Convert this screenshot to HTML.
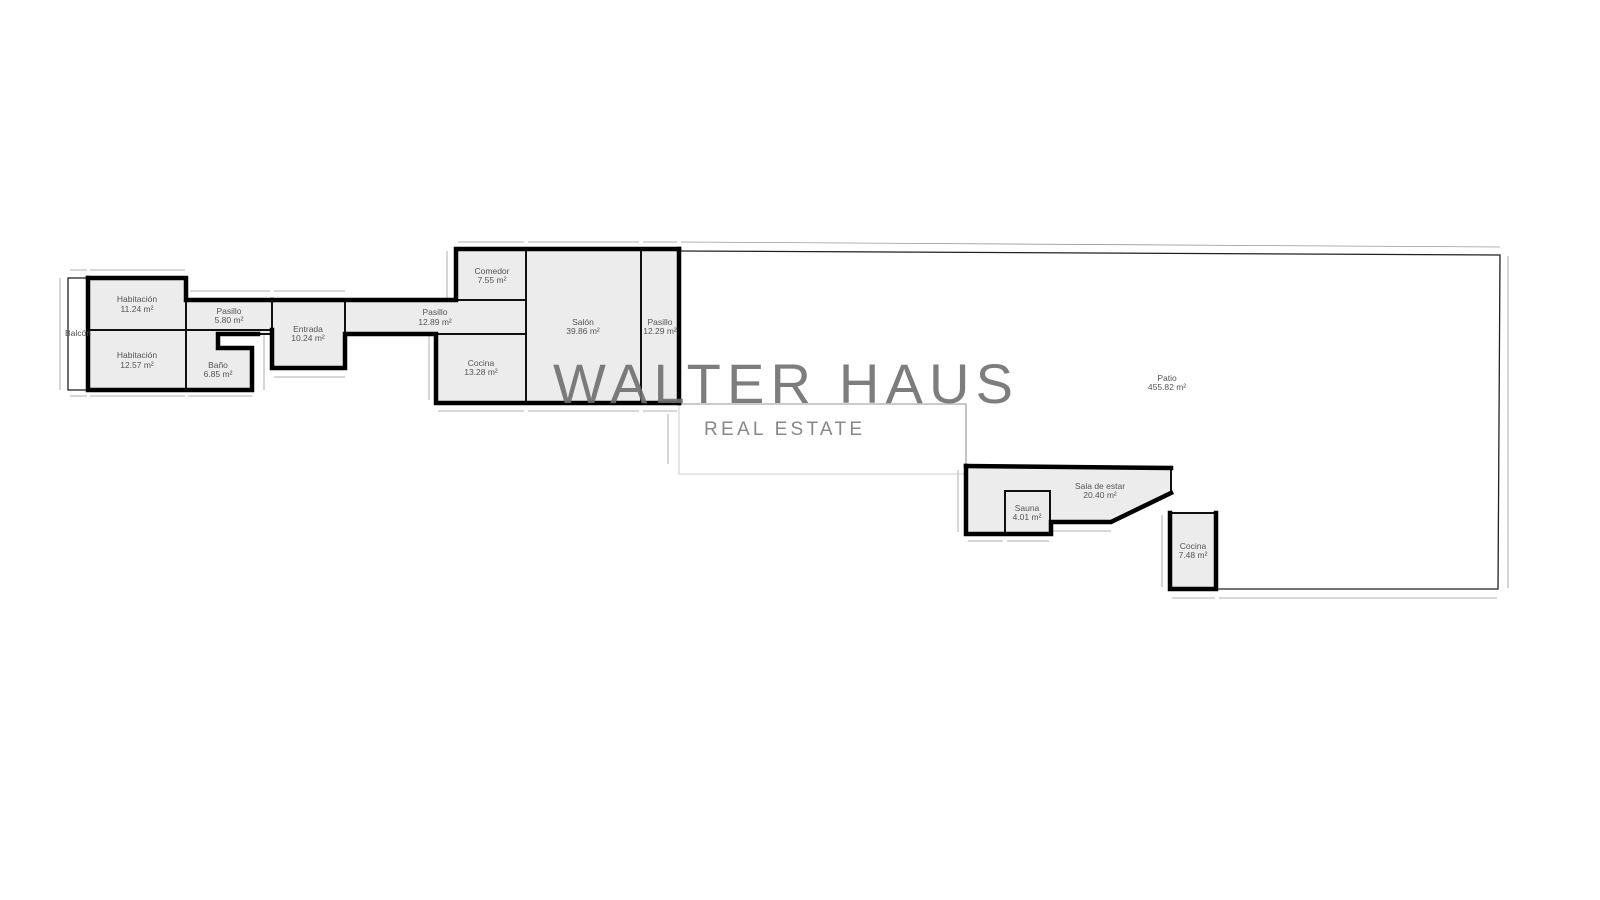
<!DOCTYPE html>
<html><head><meta charset="utf-8"><style>
html,body{margin:0;padding:0;background:#fff;width:1600px;height:900px;overflow:hidden}
svg{display:block}
.l{font-family:"Liberation Sans",sans-serif;font-size:8.5px;fill:#555;text-anchor:middle}
.d{stroke:#999;stroke-width:0.8;fill:none}
.r{fill:#ececec;stroke:#111;stroke-width:2}
.w{stroke:#000;stroke-width:4.5;fill:none;stroke-linecap:square}
</style></head><body>
<svg width="1600" height="900" viewBox="0 0 1600 900" xmlns="http://www.w3.org/2000/svg">
<!-- dimension lines -->
<g class="d">
<line x1="70" y1="270" x2="87" y2="270"/><line x1="90" y1="270" x2="185" y2="270"/>
<line x1="70" y1="396" x2="87" y2="396"/><line x1="90" y1="396" x2="185" y2="396"/><line x1="188" y1="396" x2="252" y2="396"/>
<line x1="60" y1="278" x2="60" y2="390"/>
<line x1="190" y1="291" x2="270" y2="291"/><line x1="274" y1="291" x2="345" y2="291"/>
<line x1="274" y1="377" x2="345" y2="377"/>
<line x1="264" y1="335" x2="264" y2="390"/>
<line x1="458" y1="242" x2="524" y2="242"/><line x1="528" y1="242" x2="639" y2="242"/><line x1="643" y1="242" x2="677" y2="242"/>
<line x1="681" y1="242" x2="1500" y2="247"/>
<line x1="1508" y1="256" x2="1508" y2="588"/>
<line x1="447" y1="251" x2="447" y2="298"/><line x1="429" y1="336" x2="429" y2="400"/>
<line x1="438" y1="411" x2="524" y2="411"/><line x1="528" y1="411" x2="639" y2="411"/><line x1="643" y1="411" x2="677" y2="411"/>
<line x1="668" y1="414" x2="668" y2="464"/>
<line x1="679" y1="474" x2="964" y2="474"/>
<line x1="958" y1="470" x2="958" y2="532"/>
<line x1="968" y1="541" x2="1003" y2="541"/><line x1="1007" y1="541" x2="1049" y2="541"/><line x1="1053" y1="531" x2="1111" y2="531"/>
<line x1="1162" y1="515" x2="1162" y2="587"/>
<line x1="1172" y1="598" x2="1215" y2="598"/><line x1="1219" y1="598" x2="1497" y2="598"/>
</g>
<!-- patio outline -->
<g fill="none" stroke="#222" stroke-width="1.3">
<polyline points="679,251 1500,255 1498,589 1217,589"/>
<polyline points="679,404 966,404 966,466"/>
<rect x="68" y="278" width="20" height="112"/>
</g>
<rect x="679" y="404" width="287" height="70" fill="none" stroke="#ccc" stroke-width="1"/>
<!-- rooms -->
<rect class="r" x="88" y="278" width="98" height="52"/>
<rect class="r" x="88" y="330" width="98" height="60"/>
<rect class="r" x="186" y="300" width="86" height="30"/>
<polygon class="r" points="186,330 272,330 272,334 218,334 218,348 252,348 252,390 186,390"/>
<rect class="r" x="272" y="300" width="73" height="68"/>
<rect class="r" x="345" y="300" width="181" height="34"/>
<rect class="r" x="456" y="249" width="70" height="51"/>
<rect class="r" x="436" y="334" width="90" height="69"/>
<rect class="r" x="526" y="249" width="115" height="154"/>
<rect class="r" x="641" y="249" width="38" height="154"/>
<polygon class="r" points="966,466 1171,468 1171,493 1111,521 1051,521 1051,534 966,534"/>
<rect class="r" x="1005" y="491" width="45" height="43"/>
<rect class="r" x="1170" y="513" width="46" height="76"/>
<!-- thick walls -->
<g class="w">
<polyline points="88,278 186,278 186,300 272,300"/>
<polyline points="88,278 88,390 252,390 252,348 218,348 218,334 258,334"/>
<polyline points="272,300 456,300 456,249 679,249"/>
<polyline points="272,330 272,368 345,368 345,334 436,334 436,403 679,403"/>
<line x1="679" y1="249" x2="679" y2="403"/>
<polyline points="966,466 966,534 1051,534 1051,522 1111,522 1171,493"/>
<polyline points="966,466 1171,468"/>
<polyline points="1170,513 1170,589 1216,589 1216,513"/>
</g>
<!-- labels -->
<g class="l">
<text x="137" y="302">Habitación</text><text x="137" y="312">11.24 m²</text>
<text x="137" y="358">Habitación</text><text x="137" y="368">12.57 m²</text>
<text x="229" y="314">Pasillo</text><text x="229" y="323">5.80 m²</text>
<text x="218" y="368">Baño</text><text x="218" y="377">6.85 m²</text>
<text x="308" y="332">Entrada</text><text x="308" y="341">10.24 m²</text>
<text x="435" y="315">Pasillo</text><text x="435" y="325">12.89 m²</text>
<text x="492" y="274">Comedor</text><text x="492" y="283">7.55 m²</text>
<text x="481" y="366">Cocina</text><text x="481" y="375">13.28 m²</text>
<text x="583" y="325">Salón</text><text x="583" y="334">39.86 m²</text>
<text x="660" y="325">Pasillo</text><text x="660" y="334">12.29 m²</text>
<text x="78" y="336">Balcón</text>
<text x="1167" y="381">Patio</text><text x="1167" y="390">455.82 m²</text>
<text x="1100" y="489">Sala de estar</text><text x="1100" y="498">20.40 m²</text>
<text x="1027" y="511">Sauna</text><text x="1027" y="520">4.01 m²</text>
<text x="1193" y="549">Cocina</text><text x="1193" y="558">7.48 m²</text>
</g>
<!-- watermark -->
<text x="785" y="403" text-anchor="middle" font-family="Liberation Sans,sans-serif" font-size="56" letter-spacing="4" fill="#6f6f6f" fill-opacity="0.9" textLength="464">WALTER HAUS</text>
<text x="783" y="435" text-anchor="middle" font-family="Liberation Sans,sans-serif" font-size="19" fill="#888" textLength="158">REAL ESTATE</text>
</svg>
</body></html>
